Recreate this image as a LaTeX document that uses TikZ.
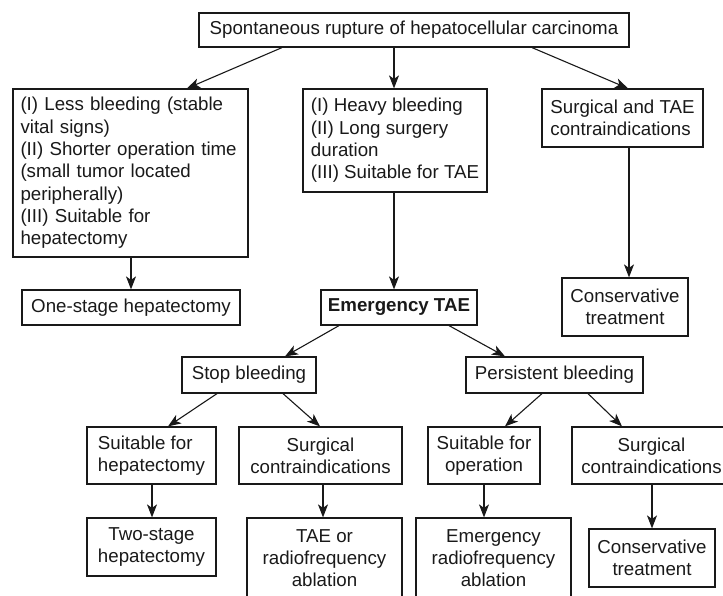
\documentclass[tikz,border=0pt]{standalone}
\usepackage{fontspec}
\setmainfont{Liberation Sans}
\usepackage{tikz}
\usetikzlibrary{arrows.meta,calc,positioning}

\begin{document}
\begin{tikzpicture}[x=1pt,y=-1pt,
    box/.style={draw=black!90,line width=1.2pt,text=black!90,inner xsep=0pt,inner ysep=0pt,font=\fontsize{18.7}{22.3}\selectfont},
    lbox/.style={box,align=left},
    cbox/.style={box,align=center},
    flow/.style={draw=black!90,line width=1.1pt,-{Stealth[length=13pt,width=10pt,inset=3.5pt]}}]
      \useasboundingbox (0,0) rectangle (723,596);
      % top
      \node[cbox,minimum width=430pt,minimum height=34pt] (rupture) at (414,30) {Spontaneous rupture of hepatocellular carcinoma};
      % first level
      \node[lbox,inner xsep=7.5pt,text width=220pt,minimum height=168pt] (less) at (130.5,173) {(I) Less bleeding (stable\\vital signs)\\(II) Shorter operation time\\(small tumor located\\peripherally)\\(III) Suitable for\\hepatectomy};
      \node[lbox,minimum width=184pt,minimum height=103pt] (heavy) at (395,140.5) {(I) Heavy bleeding\\(II) Long surgery\\duration\\(III) Suitable for TAE};
      \node[lbox,minimum width=161pt,minimum height=58pt] (contra) at (622.5,118) {Surgical and TAE\\contraindications};
      % second level
      \node[cbox,minimum width=218pt,minimum height=35pt] (onestage) at (131,307.5) {One-stage hepatectomy};
      \node[cbox,minimum width=156pt,minimum height=35pt,font=\fontsize{18.7}{22.3}\selectfont\bfseries] (emtae) at (399,307.5) {Emergency TAE};
      \node[cbox,minimum width=126pt,minimum height=58pt] (cons) at (625,307) {Conservative\\treatment};
      % after TAE
      \node[cbox,minimum width=134pt,minimum height=36pt] (stop) at (249,375) {Stop bleeding};
      \node[cbox,minimum width=177pt,minimum height=36pt] (persist) at (554.5,375) {Persistent bleeding};
      \node[lbox,minimum width=129pt,minimum height=57pt] (suithep) at (151.5,455.5) {Suitable for\\hepatectomy};
      \node[cbox,minimum width=163pt,minimum height=57pt] (surgA) at (320.5,455.5) {Surgical\\contraindications};
      \node[cbox,minimum width=112pt,minimum height=57pt] (suitop) at (484,455.5) {Suitable for\\operation};
      \node[cbox,minimum width=159pt,minimum height=57pt] (surgB) at (651.5,455.5) {Surgical\\contraindications};
      % bottom row
      \node[cbox,minimum width=129pt,minimum height=58pt] (twostage) at (151.5,547) {Two-stage\\hepatectomy};
      \node[cbox,minimum width=155pt,minimum height=80pt] (taerf) at (324.5,558) {TAE or\\radiofrequency\\ablation};
      \node[cbox,minimum width=155pt,minimum height=80pt] (emrf) at (493.5,558) {Emergency\\radiofrequency\\ablation};
      \node[cbox,minimum width=126pt,minimum height=58pt] (consB) at (652,558) {Conservative\\treatment};
      % arrows
      \draw[flow] ([xshift=-132pt]rupture.south) -- ([xshift=56.5pt]less.north);
      \draw[flow] ([xshift=-20pt]rupture.south) -- ([xshift=-1pt]heavy.north);
      \draw[flow] ([xshift=118pt]rupture.south) -- ([xshift=5.5pt]contra.north);
      \draw[flow] (onestage.north |- less.south) -- (onestage.north);
      \draw[flow] ([xshift=-1pt]heavy.south) -- ([xshift=-5pt]emtae.north);
      \draw[flow] ([xshift=6.5pt]contra.south) -- ([xshift=4pt]cons.north);
      \draw[flow] ([xshift=-60pt]emtae.south) -- ([xshift=36pt]stop.north);
      \draw[flow] ([xshift=50pt]emtae.south) -- ([xshift=-49.5pt]persist.north);
      \draw[flow] ([xshift=-32pt]stop.south) -- ([xshift=16.5pt]suithep.north);
      \draw[flow] ([xshift=34pt]stop.south) -- ([xshift=-0.5pt]surgA.north);
      \draw[flow] ([xshift=-12.5pt]persist.south) -- ([xshift=21pt]suitop.north);
      \draw[flow] ([xshift=33.5pt]persist.south) -- ([xshift=-29.5pt]surgB.north);
      \draw[flow] ([xshift=0.5pt]suithep.south) -- ([xshift=0.5pt]twostage.north);
      \draw[flow] ([xshift=2.5pt]surgA.south) -- ([xshift=-1.5pt]taerf.north);
      \draw[flow] (suitop.south) -- ([xshift=-9.5pt]emrf.north);
      \draw[flow] ([xshift=0.5pt]surgB.south) -- (consB.north);
\end{tikzpicture}
\end{document}
